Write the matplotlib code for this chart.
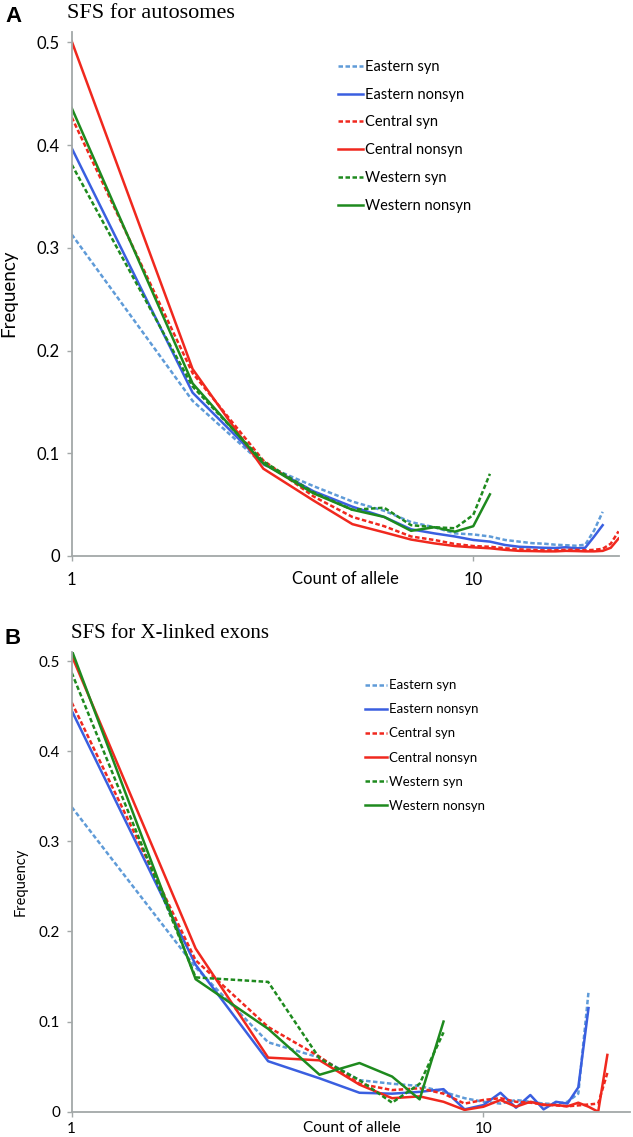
import matplotlib
matplotlib.use('Agg')
from matplotlib import pyplot as plt
import numpy as np

# ---- panel A: SFS for autosomes ----
central_counts_a = list(range(1, 24))
eastern_counts_a = list(range(1, 22))
western_counts_a = list(range(1, 12))

eastern_syn_a = [0.313, 0.151, 0.089, 0.068, 0.053, 0.044, 0.033, 0.028, 0.022, 0.021,
                 0.019, 0.0156, 0.014, 0.0125, 0.012, 0.011, 0.0105, 0.010, 0.011, 0.025, 0.043]
eastern_nonsyn_a = [0.397, 0.159, 0.090, 0.063, 0.048, 0.038, 0.026, 0.022, 0.019, 0.0156,
                    0.014, 0.0107, 0.009, 0.0085, 0.008, 0.0078, 0.0085, 0.0075, 0.008, 0.019, 0.030]
central_syn_a = [0.427, 0.178, 0.093, 0.058, 0.038, 0.029, 0.019, 0.0156, 0.0117, 0.0097,
                 0.009, 0.0075, 0.0065, 0.006, 0.0055, 0.0055, 0.006, 0.006, 0.0055, 0.006,
                 0.007, 0.012, 0.024]
central_nonsyn_a = [0.501, 0.182, 0.085, 0.054, 0.031, 0.023, 0.016, 0.0123, 0.0097, 0.0084,
                    0.0075, 0.006, 0.005, 0.0048, 0.0045, 0.0045, 0.005, 0.0048, 0.0045, 0.0045,
                    0.005, 0.008, 0.017]
western_syn_a = [0.381, 0.165, 0.092, 0.062, 0.045, 0.047, 0.030, 0.028, 0.027, 0.040, 0.080]
western_nonsyn_a = [0.436, 0.168, 0.090, 0.061, 0.045, 0.038, 0.0245, 0.028, 0.0237, 0.029, 0.060]

# ---- panel B: SFS for X-linked exons ----
central_counts_b = list(range(1, 21))
eastern_counts_b = list(range(1, 19))
western_counts_b = list(range(1, 9))

eastern_syn_b = [0.338, 0.160, 0.077, 0.060, 0.035, 0.031, 0.0285, 0.022, 0.015, 0.011,
                 0.009, 0.013, 0.011, 0.009, 0.0085, 0.011, 0.020, 0.133]
eastern_nonsyn_b = [0.445, 0.163, 0.056, 0.037, 0.021, 0.020, 0.022, 0.025, 0.0026, 0.0074,
                    0.021, 0.0044, 0.0185, 0.0026, 0.011, 0.009, 0.027, 0.115]
central_syn_b = [0.454, 0.168, 0.094, 0.061, 0.031, 0.024, 0.026, 0.020, 0.009, 0.013,
                 0.015, 0.011, 0.010, 0.008, 0.007, 0.006, 0.007, 0.008, 0.009, 0.043]
central_nonsyn_b = [0.506, 0.181, 0.060, 0.057, 0.030, 0.015, 0.017, 0.011, 0.002, 0.0055,
                    0.013, 0.0055, 0.011, 0.0074, 0.0074, 0.006, 0.010, 0.0055, 0.0, 0.063]
western_syn_b = [0.487, 0.149, 0.144, 0.059, 0.035, 0.010, 0.031, 0.088]
western_nonsyn_b = [0.512, 0.147, 0.092, 0.041, 0.054, 0.039, 0.0137, 0.100]

series_names = ['Eastern syn', 'Eastern nonsyn', 'Central syn', 'Central nonsyn',
                'Western syn', 'Western nonsyn']
ytick_values = [0, 0.1, 0.2, 0.3, 0.4, 0.5]
ytick_labels = ['0', '0.1', '0.2', '0.3', '0.4', '0.5']
xtick_values = [1, 10]
xtick_labels = ['1', '10']

W, H = 633, 1137
SANS = ['Lato', 'DejaVu Sans']
plt.rcParams['font.family'] = SANS

c_esyn = '#5f9bd8'
c_enon = '#3a5fe0'
c_red = '#f0281e'
c_green = '#1e8a1e'
dash = (0, (1.8, 1.0))
styles = [(c_esyn, dash), (c_enon, '-'), (c_red, dash), (c_red, '-'), (c_green, dash), (c_green, '-')]


def fx(px):
    return px / W


def fy(py):
    return 1 - py / H


def draw_panel(ax, data, xmax, tick_fs, xpad, leg_fs, leg_anchor, leg_space):
    for (x, y), (col, ls), name in zip(data, styles, series_names):
        ax.plot(x, y, color=col, linestyle=ls, lw=1.8, label=name)
    ax.set_xscale('log')
    ax.set_xlim(1, xmax)
    ax.set_ylim(0, 0.51)
    ax.set_xticks(xtick_values)
    ax.set_xticklabels(xtick_labels)
    ax.xaxis.set_minor_locator(matplotlib.ticker.NullLocator())
    ax.set_yticks(ytick_values)
    ax.set_yticklabels(ytick_labels)
    for loc, spine in ax.spines.items():
        if loc in ['right', 'top']:
            spine.set_color('none')
        else:
            spine.set_color('#a3a8a8')
            spine.set_linewidth(1.3)
    ax.tick_params(axis='y', direction='out', length=3.5, width=1.0, color='#a3a8a8',
                   labelsize=tick_fs, pad=5)
    ax.tick_params(axis='x', direction='out', length=3.5, width=1.0, color='#a3a8a8',
                   labelsize=tick_fs, pad=xpad)
    leg = ax.legend(loc='upper left', bbox_to_anchor=leg_anchor, frameon=False,
                    fontsize=leg_fs, handlelength=1.7, handletextpad=0.15,
                    labelspacing=leg_space, borderpad=0, borderaxespad=0)
    return leg


fig = plt.figure(figsize=(W / 100, H / 100), dpi=100)

# panel A
ax_a = fig.add_axes([fx(71.7), fy(556), (619 - 71.7) / W, (556 - 32) / H])
data_a = [(eastern_counts_a, eastern_syn_a), (eastern_counts_a, eastern_nonsyn_a),
          (central_counts_a, central_syn_a), (central_counts_a, central_nonsyn_a),
          (western_counts_a, western_syn_a), (western_counts_a, western_nonsyn_a)]
draw_panel(ax_a, data_a, 23.06, 12, 8, 10.5, (0.4866, 0.947), 0.95)

# panel B
ax_b = fig.add_axes([fx(71.7), fy(1111.7), (630 - 71.7) / W, (1111.7 - 652) / H])
data_b = [(eastern_counts_b, eastern_syn_b), (eastern_counts_b, eastern_nonsyn_b),
          (central_counts_b, central_syn_b), (central_counts_b, central_nonsyn_b),
          (western_counts_b, western_syn_b), (western_counts_b, western_nonsyn_b)]
draw_panel(ax_b, data_b, 22.7, 11, 4, 9.5, (0.5245, 0.941), 0.92)

# titles, panel letters and axis titles
fig.text(fx(5), fy(16), 'A', fontsize=16, fontweight='bold', family=['Liberation Sans'],
         va='center', ha='left')
fig.text(fx(5), fy(638), 'B', fontsize=16, fontweight='bold', family=['Liberation Sans'],
         va='center', ha='left')
fig.text(fx(67), fy(13), 'SFS for autosomes', fontsize=16, family=['Liberation Serif'],
         va='center', ha='left')
fig.text(fx(71), fy(634), 'SFS for X-linked exons', fontsize=15, family=['Liberation Serif'],
         va='center', ha='left')

fig.text(fx(9), fy(293), 'Frequency', fontsize=13.5, rotation=90, va='center', ha='center')
fig.text(fx(21), fy(882), 'Frequency', fontsize=10.5, rotation=90, va='center', ha='center')
fig.text(fx(345), fy(579), 'Count of allele', fontsize=12, va='center', ha='center')
fig.text(fx(352), fy(1128), 'Count of allele', fontsize=11, va='center', ha='center')

fig.savefig('out.png', dpi=100)
